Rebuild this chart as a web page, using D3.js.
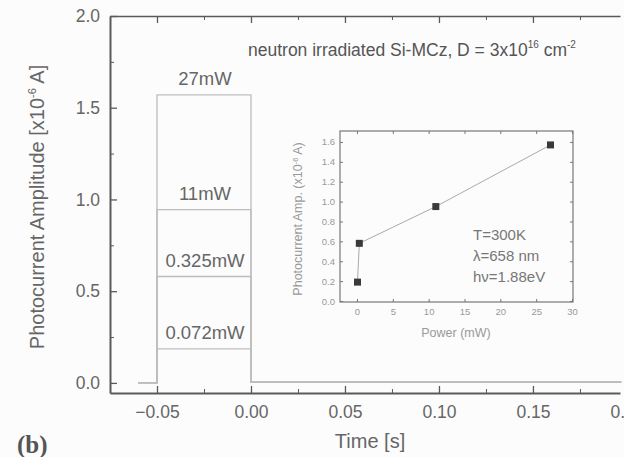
<!DOCTYPE html>
<html>
<head>
<meta charset="utf-8">
<script src="https://cdn.jsdelivr.net/npm/d3@7"></script>
<style>
  html, body { margin: 0; padding: 0; background: #fcfcfc; }
  svg { display: block; font-family: 'Liberation Sans', Arial, sans-serif; }
</style>
</head>
<body>
<div id="chart"></div>
<script>
// main panel data (photocurrent pulses, x10^-6 A)
const pulseLabels = ['27mW', '11mW', '0.325mW', '0.072mW'];
const pulseTime = [-0.06, -0.05, -0.05, 0.0, 0.0, 0.197];
const trace27 = [0.0, 0.0, 1.57, 1.57, 0.006, 0.006];
const trace11 = [0.0, 0.0, 0.945, 0.945, 0.005, 0.005];
const trace0325 = [0.0, 0.0, 0.58, 0.58, 0.004, 0.004];
const trace0072 = [0.0, 0.0, 0.185, 0.185, 0.003, 0.003];
const mainXTicks = [-0.05, 0.0, 0.05, 0.10, 0.15, 0.20];
const mainYTicks = [0.0, 0.5, 1.0, 1.5, 2.0];

// inset data (amplitude vs laser power)
const insetPower = [0.072, 0.325, 11, 27];
const insetAmp = [0.19, 0.58, 0.95, 1.57];
const insetXTicks = [0, 5, 10, 15, 20, 25, 30];
const insetYTicks = [0.0, 0.2, 0.4, 0.6, 0.8, 1.0, 1.2, 1.4, 1.6];

const width = 624, height = 457;
const axisColor = '#5a5a5a', textColor = '#666', traceColor = '#bdbdbd';

const svg = d3.select('#chart')
  .append('svg')
  .attr('width', width)
  .attr('height', height);

svg.append('rect').attr('width', width).attr('height', height).attr('fill', '#fcfcfc');

// ---- main axes ----
const x = d3.scaleLinear().domain([-0.075, 0.1963]).range([110, 620]);
const y = d3.scaleLinear().domain([-0.055, 2.0]).range([393, 16]);

const traces = [trace27, trace11, trace0325, trace0072];
const line = d3.line()
  .x((d) => x(d.t))
  .y((d) => y(d.v));

svg.append('g')
  .selectAll('path')
  .data(traces)
  .join('path')
  .attr('fill', 'none')
  .attr('stroke', traceColor)
  .attr('stroke-width', 1.3)
  .attr('d', (tr) => line(tr.map((v, i) => ({ t: pulseTime[i], v }))));

svg.append('g')
  .selectAll('text')
  .data(pulseLabels)
  .join('text')
  .attr('x', x(-0.025) + 1)
  .attr('y', (d, i) => y(traces[i][2]) - 10)
  .attr('text-anchor', 'middle')
  .attr('fill', textColor)
  .style('font-size', '18.5px')
  .text((d) => d);

const minorX = d3.range(-0.075, 0.2, 0.025);
const minorY = d3.range(0.25, 2.0, 0.5);

// bottom axis
svg.append('g')
  .attr('transform', 'translate(0,393)')
  .call(d3.axisBottom(x).tickValues(minorX).tickSize(-4).tickFormat(''))
  .call((g) => g.select('.domain').remove())
  .call((g) => g.selectAll('line').attr('stroke', axisColor));
svg.append('g')
  .attr('transform', 'translate(0,393)')
  .call(d3.axisBottom(x).tickValues(mainXTicks).tickSizeInner(-7).tickSizeOuter(0).tickPadding(13)
    .tickFormat(d3.format('.2f')))
  .call((g) => g.select('.domain').attr('stroke', axisColor).attr('stroke-width', 2))
  .call((g) => g.selectAll('line').attr('stroke', axisColor).attr('stroke-width', 1.3))
  .call((g) => g.selectAll('text').attr('fill', textColor).style('font-size', '17.5px').attr('font-family', null));

// top axis
svg.append('g')
  .attr('transform', 'translate(0,16)')
  .call(d3.axisTop(x).tickValues(minorX).tickSize(-4).tickFormat(''))
  .call((g) => g.select('.domain').remove())
  .call((g) => g.selectAll('line').attr('stroke', axisColor));
svg.append('g')
  .attr('transform', 'translate(0,16)')
  .call(d3.axisTop(x).tickValues(mainXTicks).tickSizeInner(-7).tickSizeOuter(0).tickFormat(''))
  .call((g) => g.select('.domain').attr('stroke', axisColor).attr('stroke-width', 1.6))
  .call((g) => g.selectAll('line').attr('stroke', axisColor).attr('stroke-width', 1.3));

// left axis
svg.append('g')
  .attr('transform', 'translate(110,0)')
  .call(d3.axisLeft(y).tickValues(minorY).tickSize(-4).tickFormat(''))
  .call((g) => g.select('.domain').remove())
  .call((g) => g.selectAll('line').attr('stroke', axisColor));
svg.append('g')
  .attr('transform', 'translate(110,0)')
  .call(d3.axisLeft(y).tickValues(mainYTicks).tickSizeInner(-7).tickSizeOuter(0).tickPadding(10)
    .tickFormat(d3.format('.1f')))
  .call((g) => g.select('.domain').attr('stroke', axisColor).attr('stroke-width', 2))
  .call((g) => g.selectAll('line').attr('stroke', axisColor).attr('stroke-width', 1.3))
  .call((g) => g.selectAll('text').attr('fill', textColor).style('font-size', '17.5px').attr('font-family', null));

// axis titles
svg.append('text')
  .attr('x', 370)
  .attr('y', 448)
  .attr('text-anchor', 'middle')
  .attr('fill', textColor)
  .style('font-size', '20px')
  .text('Time [s]');

const yTitle = svg.append('text')
  .attr('transform', 'translate(44,207) rotate(-90)')
  .attr('text-anchor', 'middle')
  .attr('fill', textColor)
  .style('font-size', '20px');
yTitle.append('tspan').text('Photocurrent Amplitude [x10');
yTitle.append('tspan').attr('dy', -8).style('font-size', '11px').text('-6');
yTitle.append('tspan').attr('dy', 8).text(' A]');

// sample annotation
const note = svg.append('text')
  .attr('x', 248)
  .attr('y', 56)
  .attr('fill', '#555')
  .style('font-size', '17.5px');
note.append('tspan').text('neutron irradiated Si-MCz, D = 3x10');
note.append('tspan').attr('dy', -8).style('font-size', '10px').text('16');
note.append('tspan').attr('dy', 8).text(' cm');
note.append('tspan').attr('dy', -8).style('font-size', '10px').text('-2');

svg.append('text')
  .attr('x', 17)
  .attr('y', 453)
  .attr('fill', '#555')
  .attr('font-family', "'Liberation Serif', 'Times New Roman', serif")
  .attr('font-weight', 'bold')
  .style('font-size', '25px')
  .text('(b)');

// ---- inset ----
const ix = d3.scaleLinear().domain([-2.37, 30.14]).range([340, 573]);
const iy = d3.scaleLinear().domain([-0.01, 1.71]).range([302, 131]);
const inset = svg.append('g');
const insetAxis = '#777', insetText = '#999';

inset.append('rect')
  .attr('x', 340).attr('y', 131)
  .attr('width', 233).attr('height', 171)
  .attr('fill', 'none')
  .attr('stroke', insetAxis)
  .attr('stroke-width', 1.2);

inset.append('g')
  .attr('transform', 'translate(0,302)')
  .call(d3.axisBottom(ix).tickValues(insetXTicks).tickSizeInner(-3).tickSizeOuter(0).tickPadding(6))
  .call((g) => g.select('.domain').remove())
  .call((g) => g.selectAll('line').attr('stroke', insetAxis))
  .call((g) => g.selectAll('text').attr('fill', insetText).style('font-size', '9.5px').attr('font-family', null));
inset.append('g')
  .attr('transform', 'translate(0,131)')
  .call(d3.axisTop(ix).tickValues(insetXTicks).tickSizeInner(-3).tickSizeOuter(0).tickFormat(''))
  .call((g) => g.select('.domain').remove())
  .call((g) => g.selectAll('line').attr('stroke', insetAxis));
inset.append('g')
  .attr('transform', 'translate(340,0)')
  .call(d3.axisLeft(iy).tickValues(insetYTicks).tickSizeInner(-3).tickSizeOuter(0).tickPadding(5)
    .tickFormat(d3.format('.1f')))
  .call((g) => g.select('.domain').remove())
  .call((g) => g.selectAll('line').attr('stroke', insetAxis))
  .call((g) => g.selectAll('text').attr('fill', insetText).style('font-size', '9.5px').attr('font-family', null));
inset.append('g')
  .attr('transform', 'translate(573,0)')
  .call(d3.axisRight(iy).tickValues(insetYTicks).tickSizeInner(-3).tickSizeOuter(0).tickFormat(''))
  .call((g) => g.select('.domain').remove())
  .call((g) => g.selectAll('line').attr('stroke', insetAxis));

inset.append('path')
  .datum(insetPower.map((p, i) => ({ p, a: insetAmp[i] })))
  .attr('fill', 'none')
  .attr('stroke', '#aaa')
  .attr('stroke-width', 1)
  .attr('d', d3.line().x((d) => ix(d.p)).y((d) => iy(d.a)));

inset.append('g')
  .selectAll('rect')
  .data(insetPower)
  .join('rect')
  .attr('x', (d) => ix(d) - 3.5)
  .attr('y', (d, i) => iy(insetAmp[i]) - 3.5)
  .attr('width', 7)
  .attr('height', 7)
  .attr('fill', '#3a3a3a');

inset.append('text')
  .attr('x', 456)
  .attr('y', 337)
  .attr('text-anchor', 'middle')
  .attr('fill', insetText)
  .style('font-size', '12.5px')
  .text('Power (mW)');

const iyTitle = inset.append('text')
  .attr('transform', 'translate(302,219) rotate(-90)')
  .attr('text-anchor', 'middle')
  .attr('fill', insetText)
  .style('font-size', '12.5px');
iyTitle.append('tspan').text('Photocurrent Amp. (x10');
iyTitle.append('tspan').attr('dy', -4).style('font-size', '7.5px').text('-6');
iyTitle.append('tspan').attr('dy', 4).text(' A)');

const conditions = ['T=300K', 'λ=658 nm', 'hν=1.88eV'];
inset.append('g')
  .selectAll('text')
  .data(conditions)
  .join('text')
  .attr('x', 473)
  .attr('y', (d, i) => 240 + i * 21)
  .attr('fill', '#777')
  .style('font-size', '15px')
  .text((d) => d);
</script>
</body>
</html>
